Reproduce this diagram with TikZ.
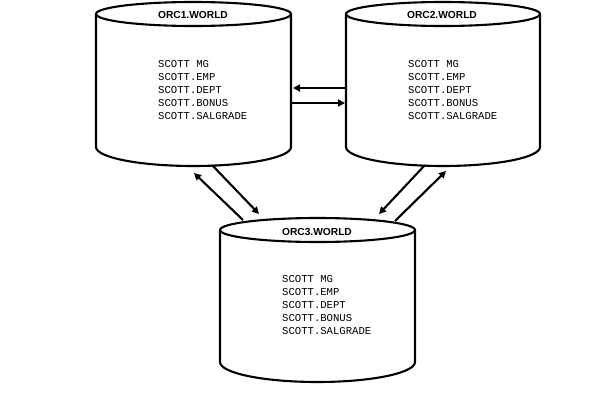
\documentclass[tikz,border=0pt]{standalone}
\usepackage{fontspec}
\usetikzlibrary{arrows.meta}
\newfontfamily\titlefont{Liberation Sans}
\newfontfamily\monofont{Liberation Mono}
\tikzset{
  db/.style={line width=2.1pt, line join=round},
  dbtitle/.style={font=\titlefont\bfseries\fontsize{10.2}{12}\selectfont, inner sep=0pt},
  dbline/.style={font=\monofont\fontsize{10.6}{13}\selectfont, inner sep=0pt, anchor=base west},
  link/.style={line width=2.1pt, -{Triangle[length=7pt,width=7pt]}},
}
\begin{document}
\begin{tikzpicture}[x=1pt,y=-1pt]
\useasboundingbox (0,0) rectangle (592,407);
% cylinders
\draw[db] (193.5,14) ellipse [x radius=97.5, y radius=12];
\draw[db] (96,14) -- (96,147) arc[start angle=180, end angle=360, x radius=97.5, y radius=-19] -- (291,14);
\draw[db] (443,14) ellipse [x radius=97, y radius=12];
\draw[db] (346,14) -- (346,147) arc[start angle=180, end angle=360, x radius=97, y radius=-19] -- (540,14);
\draw[db] (317.5,230) ellipse [x radius=97.5, y radius=12];
\draw[db] (220,230) -- (220,362) arc[start angle=180, end angle=360, x radius=97.5, y radius=-20] -- (415,230);
% titles
\node[dbtitle] (t1) at (193,15) {ORC1.WORLD};
\node[dbtitle] (t2) at (442,15) {ORC2.WORLD};
\node[dbtitle] (t3) at (317,232) {ORC3.WORLD};
% contents
\foreach \t [count=\i] in {SCOTT MG,SCOTT.EMP,SCOTT.DEPT,SCOTT.BONUS,SCOTT.SALGRADE}{
  \node[dbline] (a\i) at (158,{67+13*(\i-1)}) {\t};
  \node[dbline] (b\i) at (408,{67+13*(\i-1)}) {\t};
  \node[dbline] (c\i) at (282,{282+13*(\i-1)}) {\t};
}
% connector endpoints
\coordinate (p1) at (347,88);  \coordinate (q1) at (293,88);
\coordinate (p2) at (292,103); \coordinate (q2) at (345,103);
\coordinate (p3) at (243,220); \coordinate (q3) at (194,173);
\coordinate (p4) at (212,165); \coordinate (q4) at (259,214);
\coordinate (p5) at (425,165); \coordinate (q5) at (379,214);
\coordinate (p6) at (395,221); \coordinate (q6) at (446,171);
\draw[link] (p1) -- (q1);
\draw[link] (p2) -- (q2);
\draw[link] (p3) -- (q3);
\draw[link] (p4) -- (q4);
\draw[link] (p5) -- (q5);
\draw[link] (p6) -- (q6);
\end{tikzpicture}
\end{document}
